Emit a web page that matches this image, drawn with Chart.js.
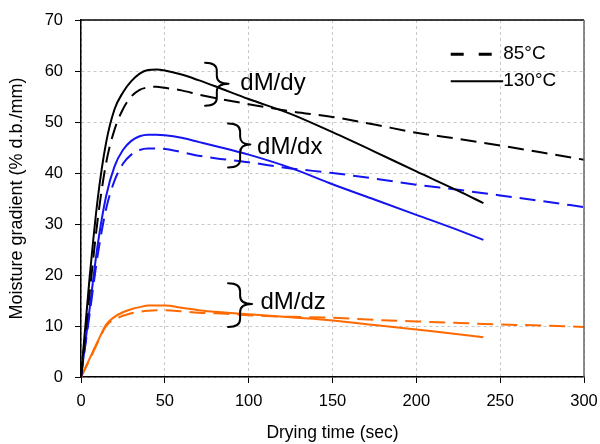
<!DOCTYPE html>
<html><head><meta charset="utf-8">
<script src="https://cdn.jsdelivr.net/npm/chart.js@4"></script>
<style>html,body{margin:0;padding:0;background:#fff;}</style>
</head><body>
<canvas id="c" width="600" height="444"></canvas>
<script>
// ---- data ----
const time85  = [0,5,10,15,20,25,30,35,40,45,50,60,70,80,100,125,150,175,200,225,250,275,300];
const time130 = [0,5,10,15,20,25,30,35,40,45,50,60,70,80,100,125,150,175,200,225,240];
const dy85  = [0,16,31,42,48.5,52.5,55,56.3,56.8,56.9,56.7,56.2,55.4,54.7,53.5,52.1,51.0,49.5,47.9,46.7,45.4,44.0,42.6];
const dy130 = [0,19,35,46,52.5,55.8,58,59.5,60.2,60.3,60.1,59.3,58.2,57.0,54.5,51.6,48.0,44.2,40.3,36.5,34.1];
const dx85  = [0,12,24,33,38.5,41.8,43.6,44.5,44.8,44.8,44.7,44.1,43.4,42.9,42.1,40.9,40.0,38.9,37.7,36.7,35.6,34.5,33.3];
const dx130 = [0,13,26,35.5,41.3,44.5,46.3,47.2,47.5,47.5,47.4,46.9,46.1,45.3,43.6,41.0,37.8,34.8,31.8,28.8,26.9];
const dz85  = [0,3.3,6.8,10,11.3,12,12.5,12.8,13,13.1,13.1,12.9,12.6,12.5,12.1,11.8,11.6,11.2,10.9,10.6,10.3,10.1,9.8];
const dz130 = [0,3.5,7,10.3,11.8,12.7,13.3,13.7,14,14,14,13.6,13.1,12.8,12.3,11.7,11.1,10.2,9.3,8.4,7.8];
const xTicks = [0,50,100,150,200,250,300];
const yTicks = [0,10,20,30,40,50,60,70];
const legendLabels = ['85°C','130°C'];
const braceLabels = ['dM/dy','dM/dx','dM/dz'];

const FONT = '"Liberation Sans", Arial, sans-serif';
const pts = (t, v) => t.map((x, i) => ({x, y: v[i]}));
const ds = (t, v, color, dashed) => ({
  data: pts(t, v), borderColor: color, backgroundColor: color,
  borderWidth: 2, borderDash: dashed ? [16, 8] : [], pointRadius: 0,
  cubicInterpolationMode: 'monotone', fill: false
});

// annotation anchors (data coordinates)
const braces = [
  {label: braceLabels[0], xl: 74,   xv: 81,   xt: 88,  top: 61.6, mid: 57.5, bot: 53.2, tx: 95,  ty: 57.6},
  {label: braceLabels[1], xl: 87.7, xv: 94.9, xt: 101, top: 49.7, mid: 45.6, bot: 41.1, tx: 105, ty: 45.1},
  {label: braceLabels[2], xl: 87.7, xv: 94.9, xt: 102, top: 18.4, mid: 14.3, bot: 9.8,  tx: 107, ty: 14.6}
];

const overlay = {
  id: 'overlay',
  afterDatasetsDraw(chart) {
    const {ctx, chartArea: a, scales: {x, y}} = chart;
    ctx.save();
    // frame
    ctx.lineWidth = 1.5; ctx.strokeStyle = '#000';
    ctx.beginPath(); ctx.moveTo(a.left, a.top); ctx.lineTo(a.right, a.top); ctx.stroke();
    ctx.strokeStyle = '#666';
    ctx.beginPath(); ctx.moveTo(a.right, a.top); ctx.lineTo(a.right, a.bottom); ctx.stroke();
    // legend
    const lx0 = x.getPixelForValue(220.5), lx1 = x.getPixelForValue(247), lx2 = x.getPixelForValue(251.8);
    const r1 = y.getPixelForValue(63.3), r2 = y.getPixelForValue(58.0);
    ctx.strokeStyle = '#000';
    ctx.lineWidth = 3; ctx.setLineDash([13, 15]);
    ctx.beginPath(); ctx.moveTo(lx0, r1); ctx.lineTo(lx1, r1); ctx.stroke();
    ctx.setLineDash([]); ctx.lineWidth = 2;
    ctx.beginPath(); ctx.moveTo(lx0, r2); ctx.lineTo(lx2, r2); ctx.stroke();
    ctx.fillStyle = '#000'; ctx.font = '19px ' + FONT; ctx.textBaseline = 'middle'; ctx.textAlign = 'left';
    ctx.fillText(legendLabels[0], lx2, r1);
    ctx.fillText(legendLabels[1], lx2, r2);
    // braces
    ctx.lineWidth = 2; ctx.lineJoin = 'round'; ctx.lineCap = 'round';
    for (const b of braces) {
      const L = x.getPixelForValue(b.xl), V = x.getPixelForValue(b.xv), T = x.getPixelForValue(b.xt);
      const yT = y.getPixelForValue(b.top), yM = y.getPixelForValue(b.mid), yB = y.getPixelForValue(b.bot);
      const r = 8;
      ctx.beginPath();
      ctx.moveTo(L, yT);
      ctx.quadraticCurveTo(V, yT, V, yT + r);
      ctx.lineTo(V, yM - r);
      ctx.quadraticCurveTo(V, yM, T, yM);
      ctx.moveTo(T, yM);
      ctx.quadraticCurveTo(V, yM, V, yM + r);
      ctx.lineTo(V, yB - r);
      ctx.quadraticCurveTo(V, yB, L, yB);
      ctx.stroke();
      ctx.font = '24px ' + FONT;
      ctx.fillText(b.label, x.getPixelForValue(b.tx), y.getPixelForValue(b.ty));
    }
    ctx.restore();
  }
};

new Chart(document.getElementById('c'), {
  type: 'line',
  data: {
    datasets: [
      ds(time85, dy85, '#000000', true),
      ds(time130, dy130, '#000000', false),
      ds(time85, dx85, '#1414F0', true),
      ds(time130, dx130, '#1414F0', false),
      ds(time85, dz85, '#FF6A00', true),
      ds(time130, dz130, '#FF6A00', false)
    ]
  },
  options: {
    responsive: false, animation: false, devicePixelRatio: 1,
    layout: {padding: {left: 0, right: 16, top: 20, bottom: 0}},
    plugins: {legend: {display: false}, tooltip: {enabled: false}},
    scales: {
      x: {
        type: 'linear', min: 0, max: 300,
        afterBuildTicks: s => { s.ticks = xTicks.map(v => ({value: v})); },
        afterFit: s => { s.height = 67; s.paddingLeft = 0; s.paddingRight = 0; },
        grid: {color: '#c8c8c8', tickColor: '#000', tickLength: 6, lineWidth: 1},
        border: {display: true, color: '#000', width: 1.5, dash: [3, 3]},
        ticks: {color: '#000', font: {family: FONT, size: 16.5}, padding: 9, maxRotation: 0},
        title: {display: true, text: 'Drying time (sec)', color: '#000', font: {family: FONT, size: 17.5}, padding: {top: 3, bottom: 0}}
      },
      y: {
        type: 'linear', min: 0, max: 70,
        afterBuildTicks: s => { s.ticks = yTicks.map(v => ({value: v})); },
        afterFit: s => { s.width = 81; s.paddingTop = 0; s.paddingBottom = 0; },
        grid: {color: '#c8c8c8', tickColor: '#000', tickLength: 6, lineWidth: 1},
        border: {display: true, color: '#000', width: 1.5, dash: [3, 3]},
        ticks: {color: '#000', font: {family: FONT, size: 16.5}, padding: 12},
        title: {display: true, text: 'Moisture gradient (% d.b./mm)', color: '#000', font: {family: FONT, size: 18}, padding: {top: 6, bottom: 0}}
      }
    }
  },
  plugins: [overlay]
});
</script>
</body></html>
